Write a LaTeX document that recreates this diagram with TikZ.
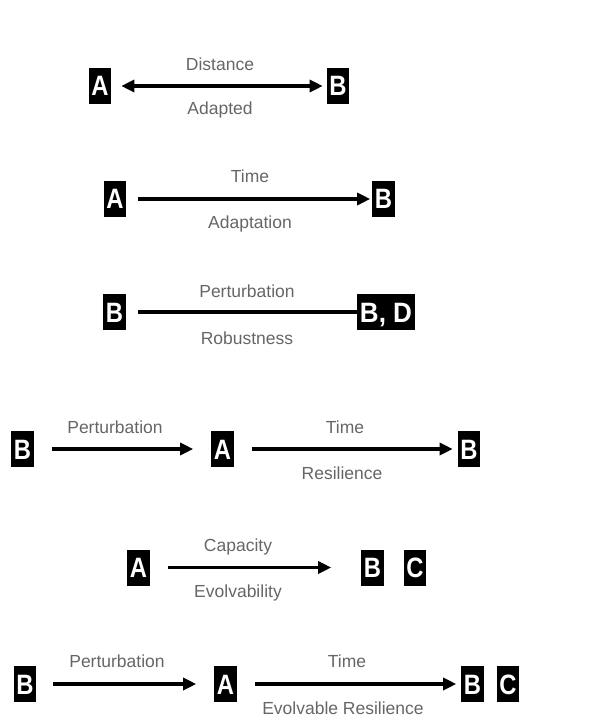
\documentclass[tikz,border=0pt]{standalone}
\usepackage{fontspec}
\setmainfont{Liberation Sans}
\usetikzlibrary{arrows.meta}
\definecolor{lblgray}{HTML}{666666}
\newcommand{\boxtxt}[1]{\scalebox{0.85}[1]{#1}}
\tikzset{
  box/.style={fill=black, text=white, font=\fontsize{28}{28}\selectfont\bfseries,
    inner xsep=2.5pt, inner ysep=0pt, minimum width=22pt, minimum height=36pt,
    text height=20pt, text depth=0pt},
  lbl/.style={text=lblgray, font=\fontsize{17.5}{17.5}\selectfont,
    inner sep=0pt, text height=12.5pt, text depth=0pt},
  conn/.style={line width=3.2pt},
  tip/.style={-{Triangle[length=13pt,width=12pt]}},
}
\begin{document}
\begin{tikzpicture}[x=1pt,y=-1pt]
\useasboundingbox (0,0) rectangle (593,727);
% Row 1
\node[box] (a1) at (100,86) {\boxtxt{A}};
\node[box] (b1) at (338,86) {\boxtxt{B}};
\draw[conn,{Triangle[length=13pt,width=12pt]}-{Triangle[length=13pt,width=12pt]},shorten <=10pt,shorten >=4pt] (a1) -- (b1);
\node[lbl] (l1a) at (220,64) {Distance};
\node[lbl] (l1b) at (220,108.3) {Adapted};
% Row 2
\node[box] (a2) at (115,199) {\boxtxt{A}};
\node[box] (b2) at (383.5,199) {\boxtxt{B}};
\draw[conn,tip,shorten <=12pt,shorten >=2pt] (a2) -- (b2);
\node[lbl] (l2a) at (250,176.7) {Time};
\node[lbl] (l2b) at (250,222.7) {Adaptation};
% Row 3
\node[box] (b3) at (114.5,312) {\boxtxt{B}};
\node[box,minimum width=58pt] (bd3) at (386,312) {\scalebox{0.93}[1]{B, D}};
\draw[conn,shorten <=12pt] (b3) -- (bd3);
\node[lbl] (l3a) at (247,291) {Perturbation};
\node[lbl] (l3b) at (247,338) {Robustness};
% Row 4
\node[box] (b4) at (22.5,449) {\boxtxt{B}};
\node[box] (a4) at (222.5,449) {\boxtxt{A}};
\node[box] (b4r) at (469,449) {\boxtxt{B}};
\draw[conn,tip,shorten <=18pt,shorten >=18pt] (b4) -- (a4);
\draw[conn,tip,shorten <=18pt,shorten >=5pt] (a4) -- (b4r);
\node[lbl] (l4a) at (115,427) {Perturbation};
\node[lbl] (l4b) at (345,427) {Time};
\node[lbl] (l4c) at (342,473) {Resilience};
% Row 5
\node[box] (a5) at (138.5,567.5) {\boxtxt{A}};
\node[box] (b5) at (372.5,567.5) {\boxtxt{B}};
\node[box] (c5) at (415,567.5) {\boxtxt{C}};
\draw[conn,tip,shorten <=18pt,shorten >=30pt] (a5) -- (b5);
\node[lbl] (l5a) at (238,545.5) {Capacity};
\node[lbl] (l5b) at (238,591) {Evolvability};
% Row 6
\node[box] (b6) at (25,684) {\boxtxt{B}};
\node[box] (a6) at (225.5,684) {\boxtxt{A}};
\node[box] (b6r) at (472.5,684) {\boxtxt{B}};
\node[box] (c6) at (508,684) {\boxtxt{C}};
\draw[conn,tip,shorten <=17pt,shorten >=18pt] (b6) -- (a6);
\draw[conn,tip,shorten <=18pt,shorten >=5pt] (a6) -- (b6r);
\node[lbl] (l6a) at (117,661.7) {Perturbation};
\node[lbl] (l6b) at (347,661.7) {Time};
\node[lbl] (l6c) at (343,708) {Evolvable Resilience};
\end{tikzpicture}
\end{document}
